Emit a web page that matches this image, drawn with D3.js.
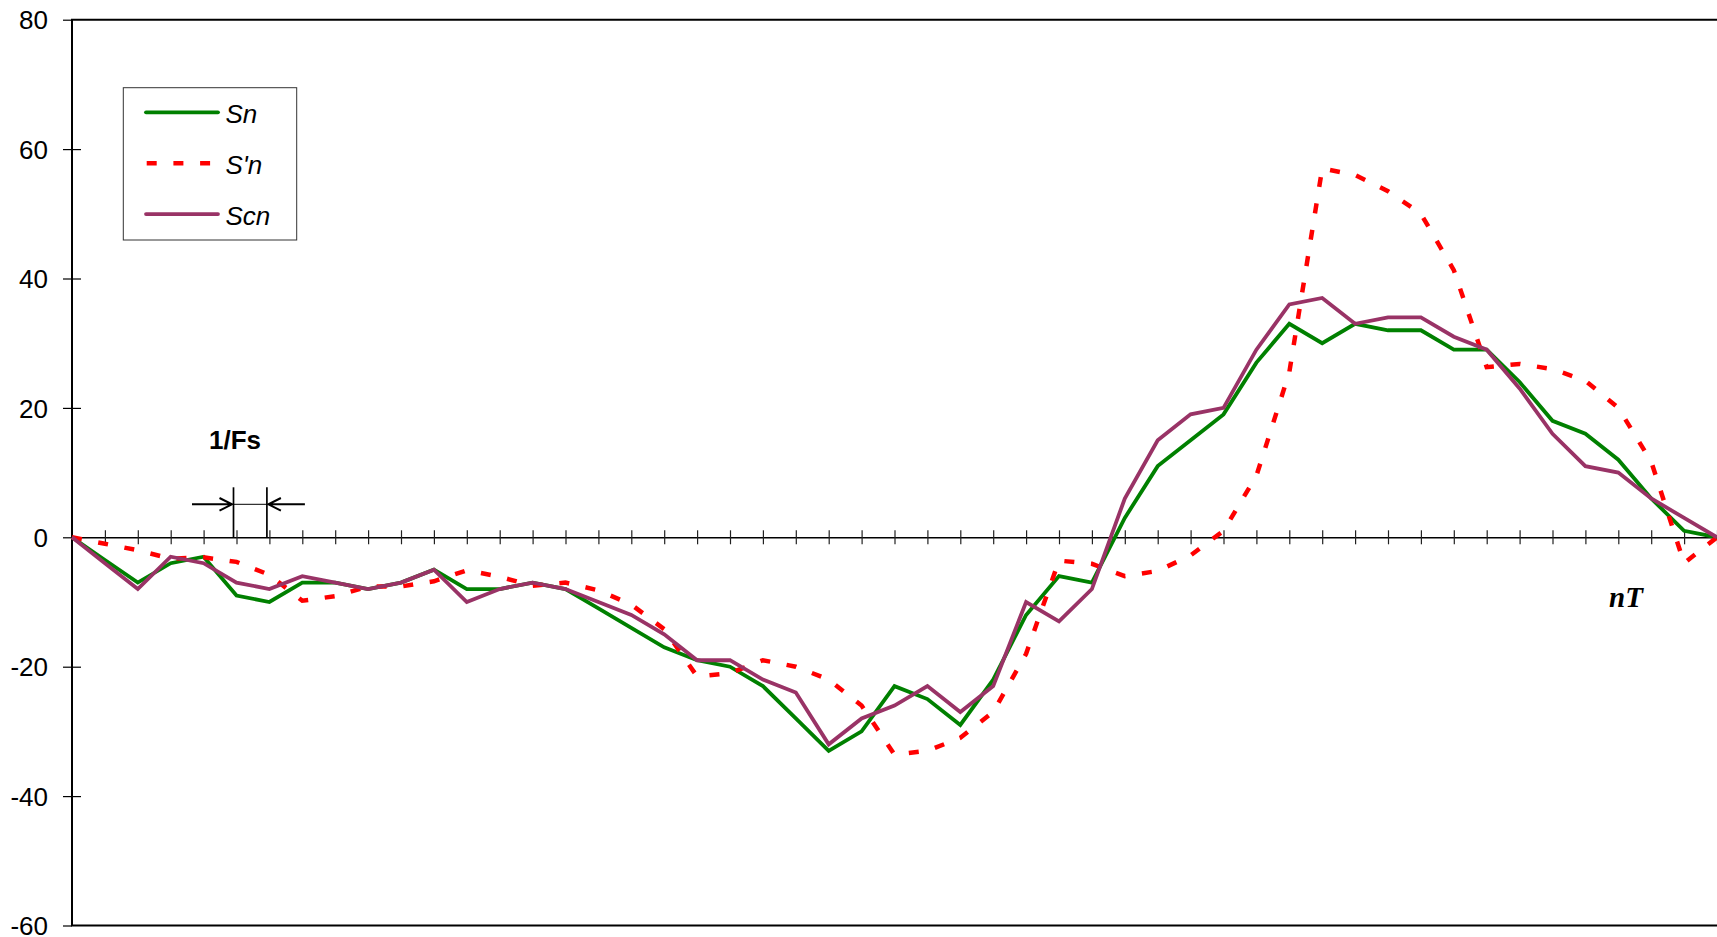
<!DOCTYPE html>
<html>
<head>
<meta charset="utf-8">
<script src="https://cdn.jsdelivr.net/npm/d3@7"></script>
<style>
  html, body { margin: 0; padding: 0; background: #fff; }
  svg { display: block; }
</style>
</head>
<body>
<svg id="chart"></svg>
<script>
// Sampled signals Sn, S'n and Scn against sample index n (step 1/Fs)

// --- data ---
const sampleN = [0, 1, 2, 3, 4, 5, 6, 7, 8, 9, 10, 11, 12, 13, 14, 15, 16, 17, 18, 19, 20,
  21, 22, 23, 24, 25, 26, 27, 28, 29, 30, 31, 32, 33, 34, 35, 36, 37, 38, 39, 40,
  41, 42, 43, 44, 45, 46, 47, 48, 49, 50];

const sn = [0, -3.5, -7, -4, -3, -9, -10, -7, -7, -8, -7, -5, -8, -8, -7, -8, -11, -14, -17, -19, -20,
  -23, -28, -33, -30, -23, -25, -29, -22, -12, -6, -7, 3, 11, 15, 19, 27, 33, 30, 33, 32,
  32, 29, 29, 24, 18, 16, 12, 6, 1, 0];

const sPrimeN = [0, -1, -2, -3.3, -3.1, -3.8, -5.8, -9.8, -9.1, -7.6, -7.6, -6.8, -5.1, -6.1, -7.5, -7, -8.2, -10.4, -14.2, -21.5, -21,
  -19, -20, -22, -26, -33.6, -33, -31, -27, -18, -3.6, -4.1, -6, -5.2, -2.8, 1, 9.5, 25.5, 57, 56, 53.5,
  50, 41.3, 26.3, 26.8, 26, 24.2, 20, 11.7, -4, 0];

const scn = [0, -4, -8, -3, -4, -7, -8, -6, -7, -8, -7, -5, -10, -8, -7, -8, -10, -12, -15, -19, -19,
  -22, -24, -32, -28, -26, -23, -27, -23, -10, -13, -8, 6, 15, 19, 20, 29, 36, 37, 33, 34,
  34, 31, 29, 23, 16, 11, 10, 6, 3, 0];

const seriesNames = ['Sn', "S'n", 'Scn'];
const yTicks = [-60, -40, -20, 0, 20, 40, 60, 80];

// --- layout ---
const W = 1717, H = 937;
const PLOT = { left: 72, right: 1717, top: 19.7, bottom: 925.5 };
const FONT = '"Liberation Sans", Arial, sans-serif';

const STYLES = {
  'Sn':  { color: '#008000', width: 3.8, dash: null },
  "S'n": { color: '#FF0000', width: 4.5, dash: '10,16.7' },
  'Scn': { color: '#993366', width: 3.8, dash: null }
};

const svg = d3.select('#chart')
  .attr('width', W)
  .attr('height', H)
  .attr('viewBox', `0 0 ${W} ${H}`);

const x = d3.scaleLinear().domain([0, 50]).range([PLOT.left, PLOT.right]);
const y = d3.scaleLinear().domain([-60, 80]).range([PLOT.bottom, PLOT.top]);

// Frame: left axis, top and bottom border
svg.append('path')
  .attr('d', `M${PLOT.right + 2},${PLOT.top}H${PLOT.left}V${PLOT.bottom}H${PLOT.right + 2}`)
  .attr('fill', 'none')
  .attr('stroke', '#000')
  .attr('stroke-width', 2);

// Y axis ticks (crossing the axis) and labels
const yAxis = svg.append('g')
  .attr('transform', `translate(${PLOT.left},0)`)
  .call(d3.axisLeft(y).tickValues(yTicks).tickSize(9).tickPadding(15).tickFormat(d => d));
yAxis.select('.domain').remove();
yAxis.selectAll('.tick line')
  .attr('x1', d => (d === -60 || d === 80) ? 0 : 9)
  .attr('stroke', '#000')
  .attr('stroke-width', 1.2);
yAxis.selectAll('.tick text')
  .attr('fill', '#000')
  .attr('dy', '0.35em')
  .style('font-family', FONT)
  .style('font-size', '26px');

// Horizontal axis through zero with a tick at every sample
const xAxis = svg.append('g')
  .attr('transform', `translate(0,${y(0)})`)
  .call(d3.axisBottom(x).tickValues(sampleN.slice(1)).tickSize(7).tickSizeOuter(0).tickFormat(''));
xAxis.select('.domain')
  .attr('stroke', '#000')
  .attr('stroke-width', 1.4);
xAxis.selectAll('.tick line')
  .attr('y1', -7)
  .attr('stroke', '#222')
  .attr('stroke-width', 1.2);

// Series lines
const line = d3.line()
  .x((d, i) => x(sampleN[i]))
  .y(d => y(d));

const seriesData = [sn, sPrimeN, scn];
seriesData.forEach((values, k) => {
  const st = STYLES[seriesNames[k]];
  svg.append('path')
    .datum(values)
    .attr('d', line)
    .attr('fill', 'none')
    .attr('stroke', st.color)
    .attr('stroke-width', st.width)
    .attr('stroke-linejoin', 'miter')
    .attr('stroke-dasharray', st.dash);
});

// Legend
const legend = svg.append('g');
legend.append('rect')
  .attr('x', 123.3).attr('y', 87.7)
  .attr('width', 173.4).attr('height', 152.3)
  .attr('fill', '#fff')
  .attr('stroke', '#333')
  .attr('stroke-width', 1);

seriesNames.forEach((name, k) => {
  const st = STYLES[name];
  const ly = 112.3 + k * 50.9;
  legend.append('line')
    .attr('x1', st.dash ? 146.7 : 146).attr('x2', st.dash ? 212 : 218)
    .attr('y1', ly).attr('y2', ly)
    .attr('stroke', st.color)
    .attr('stroke-width', st.width)
    .attr('stroke-linecap', st.dash ? 'butt' : 'round')
    .attr('stroke-dasharray', st.dash);
  legend.append('text')
    .attr('x', 225.5)
    .attr('y', ly + 11)
    .style('font-family', FONT)
    .style('font-style', 'italic')
    .style('font-size', '26px')
    .attr('fill', '#000')
    .text(name);
});

// 1/Fs annotation between two neighbouring samples
const xa = x(5) - 3, xb = x(6) - 2.5;
const ay = 504.3;
const ann = svg.append('g')
  .attr('stroke', '#000')
  .attr('fill', 'none');
ann.append('line').attr('x1', xa).attr('x2', xa).attr('y1', 487.3).attr('y2', y(0)).attr('stroke-width', 1.7);
ann.append('line').attr('x1', xb).attr('x2', xb).attr('y1', 487.3).attr('y2', y(0)).attr('stroke-width', 1.7);
ann.append('line').attr('x1', xa).attr('x2', xb).attr('y1', ay).attr('y2', ay).attr('stroke-width', 1);
ann.append('path')
  .attr('d', `M${xa - 41.5},${ay}H${xa - 1.5}M${xa - 14},${ay - 6.3}L${xa - 1.5},${ay}L${xa - 14},${ay + 6.3}`)
  .attr('stroke-width', 2);
ann.append('path')
  .attr('d', `M${xb + 38},${ay}H${xb + 1.5}M${xb + 14},${ay - 6.3}L${xb + 1.5},${ay}L${xb + 14},${ay + 6.3}`)
  .attr('stroke-width', 2);

svg.append('text')
  .attr('x', 235)
  .attr('y', 449)
  .attr('text-anchor', 'middle')
  .style('font-family', FONT)
  .style('font-weight', 'bold')
  .style('font-size', '26px')
  .attr('fill', '#000')
  .text('1/Fs');

// Axis name for the time axis
svg.append('text')
  .attr('x', 1609)
  .attr('y', 606.5)
  .style('font-family', '"Liberation Serif", "Times New Roman", serif')
  .style('font-weight', 'bold')
  .style('font-style', 'italic')
  .style('font-size', '29px')
  .attr('fill', '#000')
  .text('nT');
</script>
</body>
</html>
